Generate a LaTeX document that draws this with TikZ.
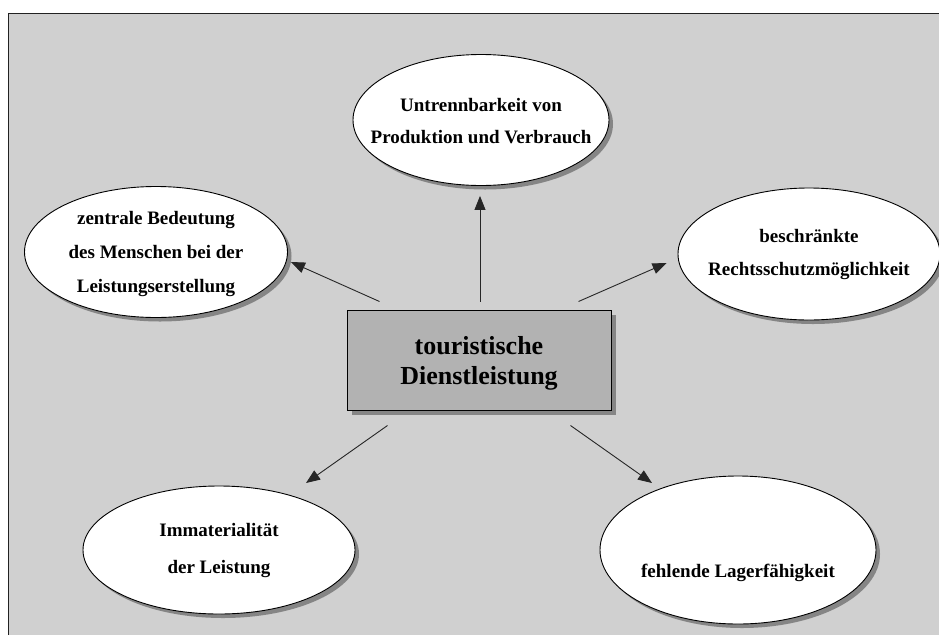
\documentclass[tikz,border=0pt]{standalone}
\usepackage{fontspec}
\setmainfont{Liberation Serif}
\usetikzlibrary{arrows.meta,shapes.geometric,shadows}
\definecolor{panel}{HTML}{D0D0D0}
\definecolor{boxfill}{HTML}{B2B2B2}
\definecolor{shade}{HTML}{858585}
\definecolor{rim}{HTML}{222222}

\begin{document}
\begin{tikzpicture}[x=1pt,y=-1pt,
  bubtext/.style={font=\fontsize{19}{34}\selectfont\bfseries, align=center, inner sep=0pt},
  boxtext/.style={font=\fontsize{26}{30}\selectfont\bfseries, align=center, inner sep=0pt},
  bubble/.style={ellipse, draw=black, line width=0.9pt, fill=white, inner sep=0pt,
    drop shadow={shadow xshift=4pt, shadow yshift=-4pt, fill=shade, opacity=1}},
  corebox/.style={rectangle, draw=black, line width=1pt, fill=boxfill,
    minimum width=264pt, minimum height=100pt, inner sep=0pt,
    drop shadow={shadow xshift=5pt, shadow yshift=-5pt, fill=shade, opacity=1}},
  arr/.style={-{Triangle[length=14pt,width=11pt]}, line width=0.9pt, draw=black!85}
]
% page and grey panel
\useasboundingbox (0,0) rectangle (939,635);
\fill[white] (0,0) rectangle (939,635);
\fill[panel] (8.5,13.5) rectangle (939,635);
\draw[rim, line width=1.6pt] (8.5,635) -- (8.5,13.5) -- (939,13.5);

% centre box
\node[corebox, label={[boxtext, yshift=-3pt]center:{touristische\\Dienstleistung}}]
  (core) at (479,360) {};

% surrounding characteristics (text set as centre labels so the ellipse keeps its size)
\node[bubble, minimum width=256pt, minimum height=131pt,
  label={[bubtext, yshift=-1pt]center:{Untrennbarkeit von\\[-2pt]Produktion und Verbrauch}}]
  (top) at (481,120) {};
\node[bubble, minimum width=263pt, minimum height=131pt,
  label={[bubtext, yshift=-2pt]center:{zentrale Bedeutung\\des Menschen bei der\\Leistungserstellung}}]
  (left) at (156,252) {};
\node[bubble, minimum width=262pt, minimum height=132pt,
  label={[bubtext]center:{beschränkte\\[-1pt]Rechtsschutzmöglichkeit}}]
  (right) at (809,254) {};
\node[bubble, minimum width=272pt, minimum height=128pt,
  label={[bubtext]center:{Immaterialität\\[3pt]der Leistung}}]
  (imm) at (219,550) {};
\node[bubble, minimum width=276pt, minimum height=148pt,
  label={[bubtext, yshift=-23pt]center:fehlende Lagerfähigkeit}]
  (store) at (738,550) {};

% connector end points
\coordinate (s-top)   at ([shift={(1,-8)}]core.north);
\coordinate (e-top)   at ([shift={(-1,10)}]top.south);
\coordinate (s-left)  at ([shift={(33,-8)}]core.north west);
\coordinate (e-left)  at ([shift={(3,10)}]left.east);
\coordinate (s-right) at ([shift={(-33,-8)}]core.north east);
\coordinate (e-right) at ([shift={(-11,9)}]right.west);
\coordinate (s-imm)   at ([shift={(41,15)}]core.south west);
\coordinate (e-imm)   at ([shift={(87,-67)}]imm.center);
\coordinate (s-store) at ([shift={(-41,15)}]core.south east);
\coordinate (e-store) at ([shift={(-86,-67)}]store.center);

\draw[arr] (s-top) -- (e-top);
\draw[arr] (s-left) -- (e-left);
\draw[arr] (s-right) -- (e-right);
\draw[arr] (s-imm) -- (e-imm);
\draw[arr] (s-store) -- (e-store);
\end{tikzpicture}
\end{document}
